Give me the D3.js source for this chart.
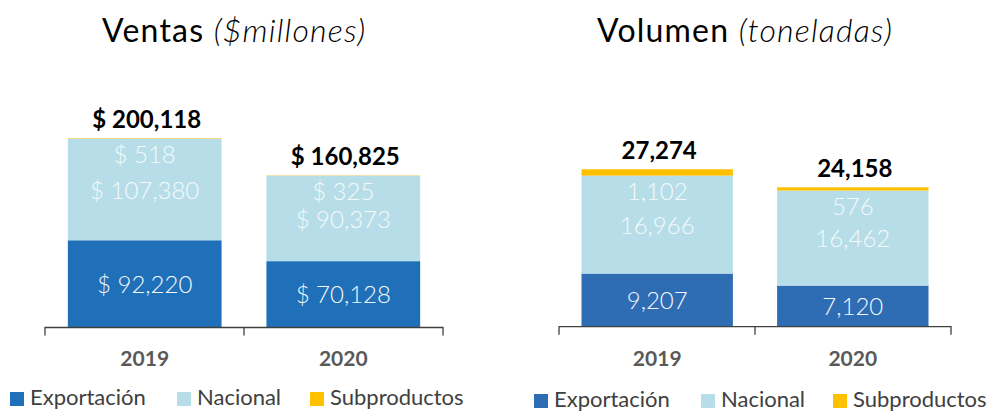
<!DOCTYPE html>
<html>
<head>
<meta charset="utf-8">
<script src="https://cdn.jsdelivr.net/npm/d3@7"></script>
<style>
  body { margin: 0; background: #fff; }
  svg { display: block; font-family: Lato, 'Open Sans', sans-serif; }
</style>
</head>
<body>
<svg width="991" height="411"></svg>
<script>
// data
const years = ['2019', '2020'];
const series = ['Exportación', 'Nacional', 'Subproductos'];

const ventasExportacion = [92220, 70128];
const ventasNacional = [107380, 90373];
const ventasSubproductos = [518, 325];
const ventasTotal = [200118, 160825];

const volumenExportacion = [9207, 7120];
const volumenNacional = [16966, 16462];
const volumenSubproductos = [1102, 576];
const volumenTotal = [27274, 24158];

const svg = d3.select('svg');
const fmt = d3.format(',');

const drawChart = (cfg) => {
  const g = svg.append('g');
  const rows = years.map((yr, i) => ({
    year: yr,
    'Exportación': cfg.exp[i],
    'Nacional': cfg.nac[i],
    'Subproductos': cfg.sub[i],
    total: cfg.total[i]
  }));

  const x = d3.scaleBand()
    .domain(years)
    .range([cfg.left, cfg.right])
    .paddingInner(0.226)
    .paddingOuter(0.115);

  const y = d3.scaleLinear()
    .domain([0, cfg.refValue])
    .range([cfg.base, cfg.base - cfg.refPx]);

  const color = d3.scaleOrdinal()
    .domain(series)
    .range([cfg.dark, '#B7DEE8', '#FFC000']);

  const stacked = d3.stack().keys(series)(rows);

  g.selectAll('.layer')
    .data(stacked)
    .enter().append('g')
    .attr('fill', d => color(d.key))
    .selectAll('rect')
    .data(d => d)
    .enter().append('rect')
    .attr('x', d => x(d.data.year))
    .attr('width', x.bandwidth())
    .attr('y', d => y(d[1]))
    .attr('height', d => y(d[0]) - y(d[1]));

  // axis
  const axis = g.append('g')
    .attr('transform', 'translate(0,' + cfg.base + ')')
    .call(d3.axisBottom(x).tickSize(0).tickPadding(24));
  axis.select('.domain').attr('stroke', '#404040').attr('stroke-width', 1.3)
    .attr('d', 'M' + cfg.left + ',8V0H' + cfg.right + 'V8');
  const mid = (x('2019') + x.bandwidth() + x('2020')) / 2;
  axis.append('line')
    .attr('x1', mid).attr('x2', mid)
    .attr('y1', 0).attr('y2', 8)
    .attr('stroke', '#404040').attr('stroke-width', 1.3);
  axis.selectAll('.tick text')
    .attr('font-family', 'Lato, sans-serif')
    .attr('font-size', 21)
    .attr('font-weight', 'bold')
    .attr('fill', '#595959');

  // segment labels
  const cx = d => x(d.year) + x.bandwidth() / 2;
  const labels = g.append('g')
    .attr('text-anchor', 'middle')
    .attr('font-size', 24)
    .attr('font-weight', 300)
    .attr('fill', '#F4F9FB');

  labels.selectAll('.lbl-exp')
    .data(rows).enter().append('text')
    .attr('x', cx)
    .attr('y', d => y(d['Exportación'] / 2))
    .attr('dy', '0.38em')
    .text(d => cfg.prefix + fmt(d['Exportación']));

  labels.selectAll('.lbl-nac')
    .data(rows).enter().append('text')
    .attr('x', cx)
    .attr('y', d => y(d['Exportación'] + d['Nacional'] / 2))
    .attr('dy', '0.38em')
    .text(d => cfg.prefix + fmt(d['Nacional']));

  labels.selectAll('.lbl-sub')
    .data(rows).enter().append('text')
    .attr('x', cx)
    .attr('y', d => y(d['Exportación'] + d['Nacional']) + 24)
    .text(d => cfg.prefix + fmt(d['Subproductos']));

  // totals
  g.selectAll('.total')
    .data(rows).enter().append('text')
    .attr('x', d => cx(d) + 2)
    .attr('y', d => y(d.total) - 10)
    .attr('text-anchor', 'middle')
    .attr('font-size', 24)
    .attr('font-weight', 'bold')
    .attr('fill', '#000')
    .text(d => cfg.prefix + fmt(d.total));

  // title
  const title = g.append('text')
    .attr('x', cfg.titleX)
    .attr('y', 42)
    .attr('font-size', 32)
    .attr('letter-spacing', 1.2)
    .attr('fill', '#000');
  title.append('tspan').text(cfg.title + ' ');
  title.append('tspan').attr('font-style', 'italic').attr('font-weight', 300).text(cfg.subtitle);

  // legend
  const legend = g.append('g')
    .attr('transform', 'translate(0,' + cfg.legendY + ')');
  const item = legend.selectAll('.item')
    .data(series).enter().append('g')
    .attr('transform', (d, i) => 'translate(' + cfg.legendX[i] + ',0)');
  item.append('rect')
    .attr('x', 0).attr('y', -13)
    .attr('width', 14).attr('height', 14)
    .attr('fill', d => color(d));
  item.append('text')
    .attr('x', 20)
    .attr('y', 0)
    .attr('font-size', 22)
    .attr('fill', '#404040')
    .text(d => d);
};

drawChart({
  exp: ventasExportacion, nac: ventasNacional, sub: ventasSubproductos, total: ventasTotal,
  left: 45, right: 443, base: 327.5, refValue: 200000, refPx: 189.2,
  dark: '#1F70B8', prefix: '$ ',
  title: 'Ventas', subtitle: '($millones)', titleX: 102,
  legendX: [10, 177, 310], legendY: 405
});

drawChart({
  exp: volumenExportacion, nac: volumenNacional, sub: volumenSubproductos, total: volumenTotal,
  left: 559, right: 951, base: 326.7, refValue: 25000, refPx: 144.3,
  dark: '#2E6DB4', prefix: '',
  title: 'Volumen', subtitle: '(toneladas)', titleX: 597,
  legendX: [534, 701, 833], legendY: 407
});
</script>
</body>
</html>
